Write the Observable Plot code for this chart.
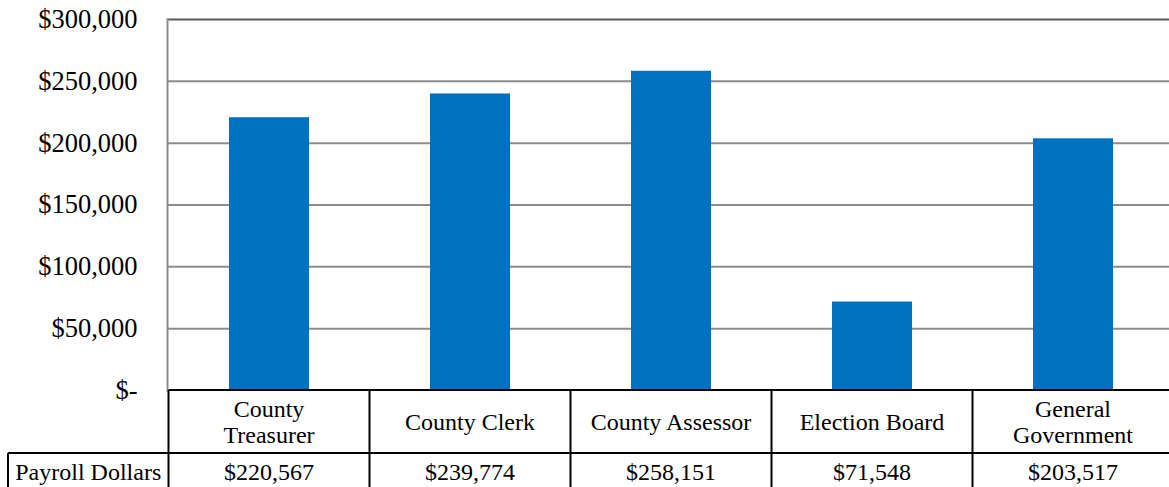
<!DOCTYPE html>
<html>
<head>
<meta charset="utf-8">
<script src="https://cdn.jsdelivr.net/npm/d3@7"></script>
<script src="https://cdn.jsdelivr.net/npm/@observablehq/plot@0.6"></script>
<style>
  html, body { margin: 0; padding: 0; background: #fff; overflow: hidden; }
  svg { display: block; overflow: hidden; }
</style>
</head>
<body>
<div id="chart"></div>
<script>
const categories = ["County Treasurer", "County Clerk", "County Assessor", "Election Board", "General Government"];
const categoryLines = [["County", "Treasurer"], ["County Clerk"], ["County Assessor"], ["Election Board"], ["General", "Government"]];
const payroll = [220567, 239774, 258151, 71548, 203517];
const seriesName = "Payroll Dollars";
const yTicks = [0, 50000, 100000, 150000, 200000, 250000, 300000];

const data = categories.map((c, i) => ({category: c, value: payroll[i]}));
const FONT = "'Liberation Serif', 'Times New Roman', serif";
const money = v => v === 0 ? "$-" : "$" + d3.format(",")(v);

const plot = Plot.plot({
  width: 1169,
  height: 487,
  marginLeft: 167,
  marginRight: 0,
  marginTop: 19,
  marginBottom: 97,
  style: {fontFamily: FONT, background: "#fff"},
  x: {domain: categories, range: [167, 1174.5], paddingInner: 0.6, paddingOuter: 0.3, axis: null},
  y: {domain: [0, 300000], axis: null},
  marks: [
    Plot.gridY(yTicks.filter(t => t > 0 && t < 300000), {stroke: "#8c8c8c", strokeOpacity: 1, strokeWidth: 2}),
    Plot.ruleY([300000], {stroke: "#5a5a5a", strokeWidth: 2}),
    Plot.barY(data, {x: "category", y: "value", fill: "#0070C0"}),
    Plot.frame({anchor: "left", stroke: "#8c8c8c", strokeWidth: 2}),
    Plot.axisY(yTicks, {tickSize: 0, tickPadding: 30, fontSize: 26.5, fill: "#000", tickFormat: money, label: null})
  ]
});

// data table below the plot, positioned with the plot's own scales
const svg = d3.select(plot);
const x = plot.scale("x");
const y = plot.scale("y");
const step = x.step;
const x0 = x.apply(categories[0]) - (step - x.bandwidth) / 2;
const y0 = y.apply(0);
const rowH1 = 63, rowH2 = 34;
const right = 1169;
const g = svg.append("g").attr("font-family", FONT).attr("font-size", 24).attr("fill", "#000");

g.append("line").attr("x1", x0).attr("x2", right).attr("y1", y0).attr("y2", y0).attr("stroke", "#000").attr("stroke-width", 2);
g.append("line").attr("x1", 8).attr("x2", right).attr("y1", y0 + rowH1).attr("y2", y0 + rowH1).attr("stroke", "#000").attr("stroke-width", 2);
g.append("line").attr("x1", 8).attr("x2", 8).attr("y1", y0 + rowH1).attr("y2", y0 + rowH1 + rowH2 + 2).attr("stroke", "#000").attr("stroke-width", 2);
categories.forEach((c, i) => {
  const xl = x0 + i * step;
  g.append("line").attr("x1", xl).attr("x2", xl).attr("y1", y0).attr("y2", y0 + rowH1 + rowH2 + 2).attr("stroke", "#000").attr("stroke-width", 2);
  const cx = x.apply(c) + x.bandwidth / 2;
  const lines = categoryLines[i];
  const lh = 26;
  lines.forEach((ln, j) => {
    g.append("text").attr("x", cx).attr("y", y0 + rowH1 / 2 + (j - (lines.length - 1) / 2) * lh)
      .attr("dy", "0.35em").attr("text-anchor", "middle").text(ln);
  });
  g.append("text").attr("x", cx).attr("y", y0 + rowH1 + rowH2 / 2 + 2).attr("dy", "0.35em")
    .attr("text-anchor", "middle").text(money(payroll[i]));
});
g.append("text").attr("x", (8 + x0) / 2).attr("y", y0 + rowH1 + rowH2 / 2 + 2).attr("dy", "0.35em")
  .attr("text-anchor", "middle").text(seriesName);

document.getElementById("chart").appendChild(plot);
</script>
</body>
</html>
